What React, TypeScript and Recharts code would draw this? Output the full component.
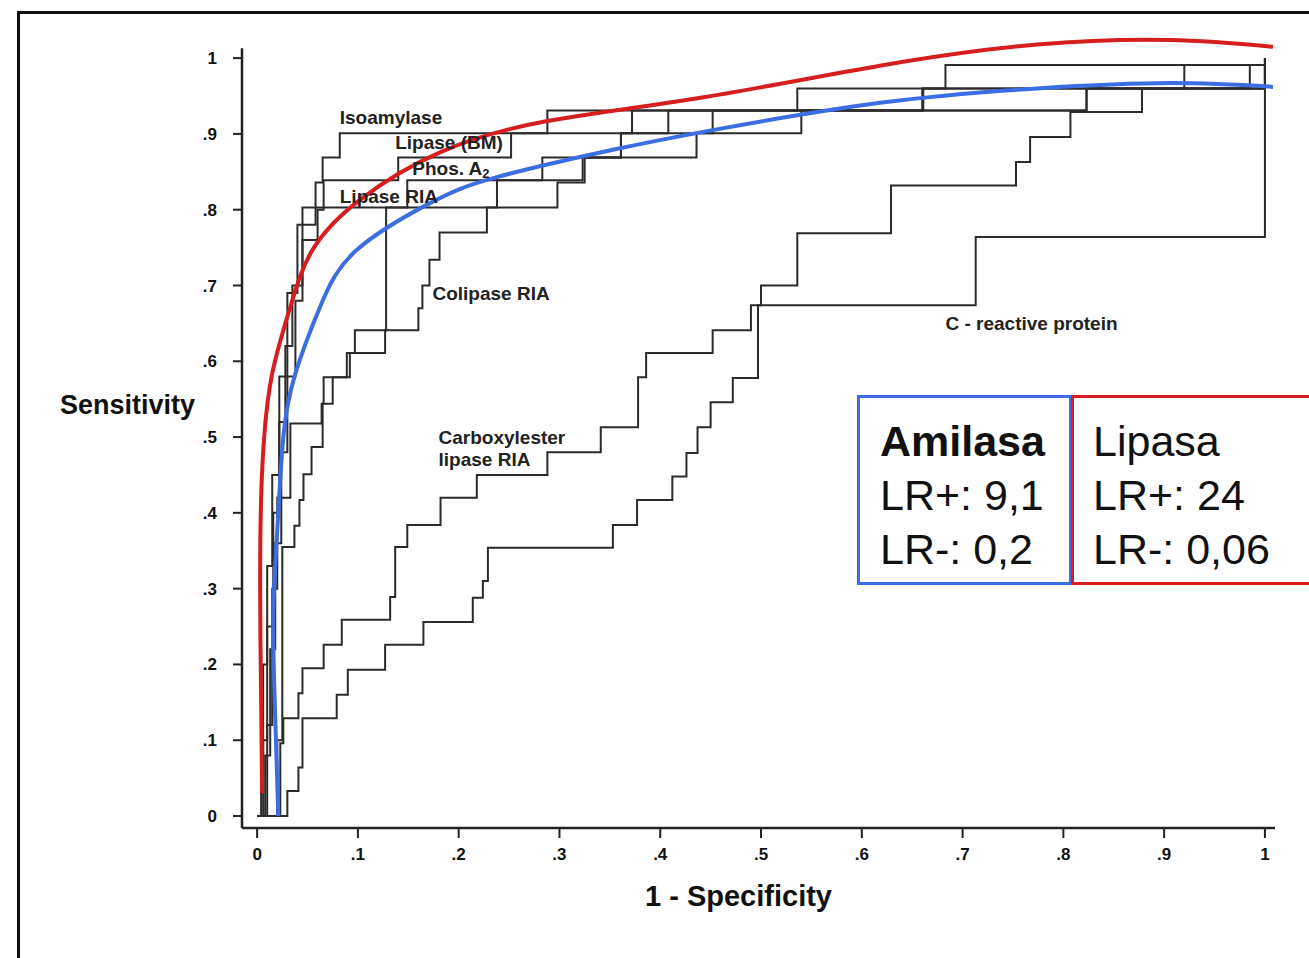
import { ComposedChart, Line, XAxis, YAxis, ReferenceLine, Scatter, Label } from 'recharts';

// ROC step curves: each point is the top of a riser (drawn with stepAfter)
const isoX = [0, 0.004, 0.006, 0.010, 0.015, 0.022, 0.030, 0.040, 0.058, 0.065, 0.082, 0.288, 0.536, 0.683, 1.0];
const isoY = [0, 0.05, 0.20, 0.33, 0.45, 0.58, 0.69, 0.78, 0.836, 0.869, 0.901, 0.931, 0.960, 0.991, 1.0];

const bmX = [0, 0.006, 0.010, 0.016, 0.022, 0.028, 0.035, 0.045, 0.060, 0.066, 0.140, 0.252, 0.372, 0.661, 0.920, 1.0];
const bmY = [0, 0.10, 0.25, 0.40, 0.52, 0.62, 0.70, 0.76, 0.80, 0.839, 0.869, 0.901, 0.931, 0.960, 0.991, 1.0];

const riaX = [0, 0.008, 0.013, 0.018, 0.024, 0.030, 0.038, 0.045, 0.149, 0.323, 0.361, 0.408, 0.823, 0.985, 1.0];
const riaY = [0, 0.08, 0.22, 0.36, 0.48, 0.58, 0.68, 0.803, 0.839, 0.869, 0.901, 0.931, 0.960, 0.991, 1.0];

const phosX = [0, 0.010, 0.015, 0.020, 0.033, 0.064, 0.066, 0.089, 0.097, 0.128, 0.238, 0.283, 0.361, 0.540, 0.823, 1.0];
const phosY = [0, 0.12, 0.30, 0.42, 0.518, 0.544, 0.579, 0.611, 0.641, 0.803, 0.839, 0.869, 0.901, 0.931, 0.960, 0.99];

const colX = [0, 0.020, 0.025, 0.037, 0.042, 0.046, 0.054, 0.065, 0.075, 0.092, 0.127, 0.160, 0.164, 0.171, 0.181, 0.228, 0.298, 0.325, 0.436, 0.452, 0.660, 1.0];
const colY = [0, 0.10, 0.355, 0.383, 0.417, 0.451, 0.487, 0.544, 0.579, 0.611, 0.641, 0.670, 0.700, 0.734, 0.770, 0.803, 0.836, 0.869, 0.901, 0.931, 0.960, 0.99];

const celX = [0, 0.023, 0.026, 0.041, 0.045, 0.066, 0.084, 0.132, 0.137, 0.149, 0.182, 0.218, 0.288, 0.341, 0.378, 0.386, 0.452, 0.490, 0.500, 0.536, 0.629, 0.753, 0.767, 0.807, 0.878, 1.0];
const celY = [0, 0.096, 0.129, 0.162, 0.195, 0.226, 0.259, 0.289, 0.355, 0.384, 0.420, 0.450, 0.480, 0.513, 0.579, 0.611, 0.641, 0.674, 0.700, 0.769, 0.832, 0.863, 0.896, 0.929, 0.960, 0.99];

const crpX = [0, 0.030, 0.041, 0.045, 0.079, 0.090, 0.127, 0.165, 0.214, 0.224, 0.229, 0.353, 0.377, 0.412, 0.426, 0.437, 0.450, 0.472, 0.497, 0.713, 1.0];
const crpY = [0, 0.033, 0.064, 0.129, 0.160, 0.193, 0.226, 0.256, 0.288, 0.310, 0.354, 0.384, 0.417, 0.448, 0.479, 0.513, 0.546, 0.578, 0.674, 0.764, 0.99];

// fitted smooth curves
const lipasaX = [0.005, 0.004, 0.003, 0.004, 0.007, 0.015, 0.033, 0.055, 0.102, 0.182, 0.288, 0.437, 0.618, 0.774, 0.906, 1.008];
const lipasaY = [0.03, 0.15, 0.30, 0.42, 0.50, 0.584, 0.672, 0.747, 0.813, 0.876, 0.917, 0.947, 0.990, 1.018, 1.024, 1.015];

const amilasaX = [0.021, 0.018, 0.016, 0.020, 0.026, 0.038, 0.0625, 0.099, 0.172, 0.238, 0.353, 0.452, 0.618, 0.774, 0.906, 1.008];
const amilasaY = [0.0, 0.13, 0.26, 0.377, 0.50, 0.584, 0.672, 0.747, 0.809, 0.843, 0.879, 0.905, 0.941, 0.960, 0.967, 0.962];

// curve labels
const labelText = ['Isoamylase', 'Lipase (BM)', 'Phos. A', 'Lipase RIA', 'Colipase RIA', 'Carboxylester', 'lipase RIA', 'C - reactive protein'];
const labelSub = ['', '', '2', '', '', '', '', ''];
const labelX = [0.082, 0.137, 0.154, 0.082, 0.174, 0.180, 0.180, 0.683];
const labelY = [0.922, 0.889, 0.855, 0.817, 0.689, 0.500, 0.470, 0.650];

const xTicks = [0, 0.1, 0.2, 0.3, 0.4, 0.5, 0.6, 0.7, 0.8, 0.9, 1];
const yTicks = [0, 0.1, 0.2, 0.3, 0.4, 0.5, 0.6, 0.7, 0.8, 0.9, 1];

const toPoints = (xs: number[], ys: number[]) => xs.map((x, i) => ({ x, y: ys[i] }));

const stepCurves = [
  toPoints(isoX, isoY),
  toPoints(bmX, bmY),
  toPoints(riaX, riaY),
  toPoints(phosX, phosY),
  toPoints(colX, colY),
  toPoints(celX, celY),
  toPoints(crpX, crpY),
];

const labels = labelText.map((text, i) => ({ x: labelX[i], y: labelY[i], text, sub: labelSub[i] }));

const FONT = '"Liberation Sans", Arial, Helvetica, sans-serif';
const fmt = (v: number) => (v === 0 ? '0' : v === 1 ? '1' : '.' + Math.round(v * 10));

const LabelShape = (p: any) => (
  <text x={p.cx} y={p.cy} dominantBaseline="central" fontFamily={FONT} fontWeight="bold" fontSize={19} fill="#222">
    {p.payload.text}
    {p.payload.sub ? <tspan dy={5} fontSize={13}>{p.payload.sub}</tspan> : null}
  </text>
);

const boxText = { fontFamily: FONT, fontSize: 43, lineHeight: '54px', color: '#111' };

export default function App() {
  return (
    <div style={{ position: 'absolute', left: 0, top: 0, width: 1309, height: 958, overflow: 'hidden', background: '#fff' }}>
      <div style={{ position: 'absolute', left: 17, top: 11, width: 1400, height: 1000, borderTop: '3px solid #111', borderLeft: '3px solid #111' }} />
      <ComposedChart width={1309} height={958} margin={{ top: 24, right: 34, left: 195, bottom: 60 }}>
        <XAxis
          dataKey="x"
          type="number"
          domain={[-0.015, 1.01]}
          allowDataOverflow
          ticks={xTicks}
          interval={0}
          tickFormatter={fmt}
          height={70}
          tickSize={10}
          tickMargin={10}
          axisLine={{ stroke: '#222', strokeWidth: 2.5 }}
          tickLine={{ stroke: '#222', strokeWidth: 2 }}
          tick={{ fontFamily: FONT, fontWeight: 'bold', fontSize: 17, fill: '#111' }}
        >
          <Label
            content={({ viewBox }: any) => (
              <text x={viewBox.x + viewBox.width / 2 - 20} y={viewBox.y + 78} textAnchor="middle" fontFamily={FONT} fontWeight="bold" fontSize={29} fill="#111">
                1 - Specificity
              </text>
            )}
          />
        </XAxis>
        <YAxis
          dataKey="y"
          type="number"
          domain={[-0.0158, 1.045]}
          allowDataOverflow
          ticks={yTicks}
          interval={0}
          tickFormatter={fmt}
          width={47}
          tickSize={9}
          tickMargin={16}
          axisLine={false}
          tickLine={{ stroke: '#222', strokeWidth: 2 }}
          tick={{ fontFamily: FONT, fontWeight: 'bold', fontSize: 17, fill: '#111' }}
        >
          <Label
            content={({ viewBox }: any) => (
              <text x={viewBox.x} y={viewBox.y + viewBox.height / 2 - 12} textAnchor="end" fontFamily={FONT} fontWeight="bold" fontSize={27} fill="#111">
                Sensitivity
              </text>
            )}
          />
        </YAxis>
        <ReferenceLine segment={[{ x: -0.015, y: -0.0158 }, { x: -0.015, y: 1.013 }]} stroke="#222" strokeWidth={2.5} />
        {stepCurves.map((pts, i) => (
          <Line
            key={i}
            data={pts}
            dataKey="y"
            type="stepAfter"
            stroke="#2b2b2b"
            strokeWidth={2}
            dot={false}
            activeDot={false}
            isAnimationActive={false}
          />
        ))}
        <Scatter data={labels} dataKey="y" shape={LabelShape} isAnimationActive={false} />
        <Line
          data={toPoints(amilasaX, amilasaY)}
          dataKey="y"
          type="natural"
          stroke="#3b6ee3"
          strokeWidth={4}
          dot={false}
          activeDot={false}
          isAnimationActive={false}
        />
        <Line
          data={toPoints(lipasaX, lipasaY)}
          dataKey="y"
          type="natural"
          stroke="#d61e1e"
          strokeWidth={4}
          dot={false}
          activeDot={false}
          isAnimationActive={false}
        />
      </ComposedChart>
      <div style={{ position: 'absolute', left: 857, top: 395, width: 215, height: 190, boxSizing: 'border-box', border: '3px solid #3b6ee3', paddingLeft: 20, paddingTop: 16, ...boxText }}>
        <div style={{ fontWeight: 'bold' }}>Amilasa</div>
        <div>LR+: 9,1</div>
        <div>LR-: 0,2</div>
      </div>
      <div style={{ position: 'absolute', left: 1071, top: 395, width: 260, height: 190, boxSizing: 'border-box', border: '3px solid #d61e1e', paddingLeft: 19, paddingTop: 16, ...boxText }}>
        <div>Lipasa</div>
        <div>LR+: 24</div>
        <div>LR-: 0,06</div>
      </div>
    </div>
  );
}
